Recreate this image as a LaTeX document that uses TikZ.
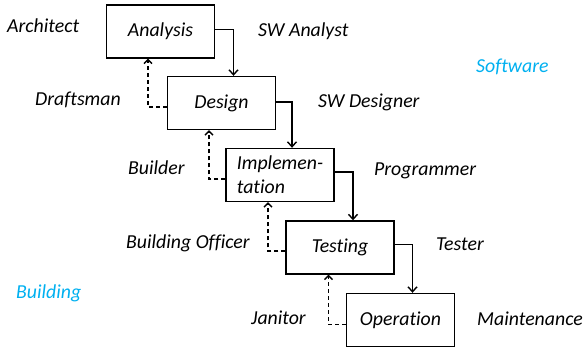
\documentclass[tikz,border=0pt]{standalone}
\usepackage{fontspec}
\setmainfont{Carlito}[Ligatures={NoCommon,NoRare}]
\usetikzlibrary{arrows.meta}
\definecolor{swblue}{RGB}{0,176,240}

\begin{document}
\begin{tikzpicture}[x=1pt,y=-1pt,line join=miter,
  font=\fontsize{19.8}{24}\selectfont\itshape,
  stage/.style={draw,line width=1.4pt,minimum width=108pt,minimum height=53pt,inner sep=0pt},
  role/.style={anchor=base west,inner sep=0pt},
  field/.style={anchor=base west,inner sep=0pt,text=swblue},
  flow/.style={line width=1.4pt,-{Straight Barb[length=5pt,width=9pt]}},
  back/.style={line width=1.3pt,dash pattern=on 4pt off 3pt,-{Straight Barb[length=4pt,width=8pt]}}]
\useasboundingbox (0,0) rectangle (586,346);
\clip (0,0) rectangle (586,346);
% stages
\node[stage] (ana) at (160.5,31.5) {Analysis};
\node[stage] (des) at (221.5,103) {\raisebox{-3pt}{Design}};
\node[stage,align=left] (imp) at (280,175) {Implemen-\\tation};
\node[stage] (tst) at (340,247.5) {Testing};
\node[stage] (opr) at (400.5,320) {Operation};
% forward flow
\draw[flow] ([yshift=2pt]ana.east) -| ([xshift=12pt]des.north);
\draw[flow] ([yshift=1pt]des.east) -| ([xshift=12pt]imp.north);
\draw[flow] ([yshift=3pt]imp.east) -| ([xshift=13pt]tst.north);
\draw[flow] ([yshift=3pt]tst.east) -| ([xshift=12pt]opr.north);
% feedback
\draw[back] ([yshift=-4pt]des.west) -| ([xshift=-12.5pt]ana.south);
\draw[back] ([yshift=-4pt]imp.west) -| ([xshift=-12.5pt]des.south);
\draw[back] ([yshift=-3.5pt]tst.west) -| ([xshift=-12pt]imp.south);
\draw[back] ([yshift=-4.5pt]opr.west) -| ([xshift=-11.5pt]tst.south);
% building roles
\node[role] (archt) at (7,32) {Architect};
\node[role] (draft) at (35,105) {Draftsman};
\node[role] (bldr) at (128,174) {Builder};
\node[role] (offcr) at (126,248) {Building Officer};
\node[role] (jantr) at (251,324) {Janitor};
% software roles
\node[role] (swana) at (258,36) {SW Analyst};
\node[role] (swdes) at (318,107) {SW Designer};
\node[role] (progr) at (374,175) {Programmer};
\node[role] (testr) at (436,250) {Tester};
\node[role] (maint) at (477,325) {Maintenance};
% fields
\node[field] (soft) at (476,72) {Software};
\node[field] (bldg) at (16,298) {Building};
\end{tikzpicture}
\end{document}
